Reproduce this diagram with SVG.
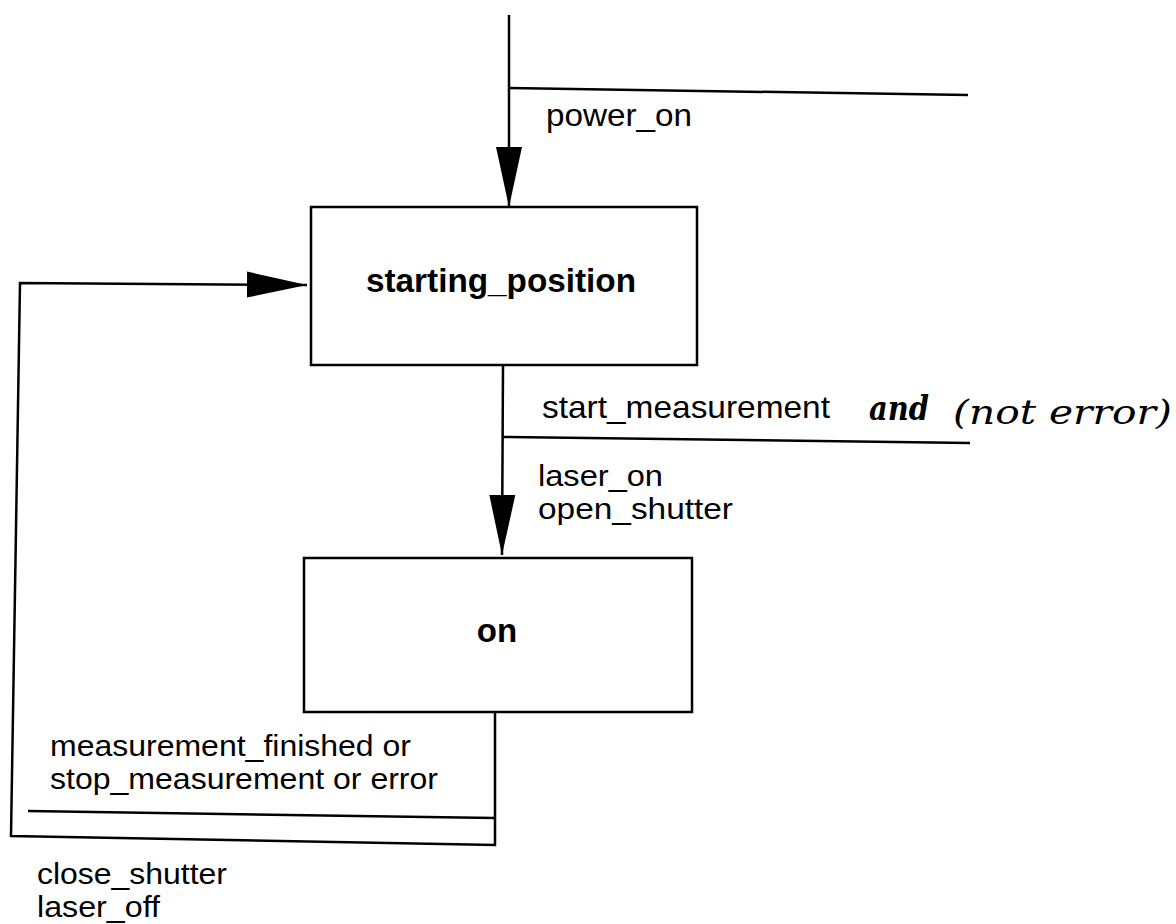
<svg xmlns="http://www.w3.org/2000/svg" width="1176" height="924" viewBox="0 0 1176 924">
<defs>
<marker id="ah" viewBox="0 0 60 30" refX="60" refY="15" markerWidth="60" markerHeight="30" markerUnits="userSpaceOnUse" orient="auto">
<path d="M0,2 L60,15 L0,28 Z" fill="#000"/>
</marker>
</defs>
<style>
.ln{fill:none;stroke:#000;stroke-width:2.5}
.box{fill:#fff;stroke:#000;stroke-width:2.5}
.t{font-family:"Liberation Sans",Arial,sans-serif;font-size:32px;fill:#000}
.s{font-family:"Liberation Sans",Arial,sans-serif;font-size:29px;fill:#000}
.b{font-family:"Liberation Sans",Arial,sans-serif;font-size:33px;font-weight:bold;fill:#000}
.h{font-family:"DejaVu Serif","Liberation Serif",serif;font-style:italic;font-size:34px;fill:#000}
</style>
<rect width="1176" height="924" fill="#fff"/>
<g id="connectors">
<line class="ln" x1="509" y1="15" x2="509" y2="207" marker-end="url(#ah)"/>
<line class="ln" x1="509" y1="88" x2="968" y2="95"/>
<line class="ln" x1="503" y1="365" x2="502" y2="555" marker-end="url(#ah)"/>
<line class="ln" x1="503" y1="437" x2="970" y2="443"/>
<polyline class="ln" points="495,712 495,845 11,836 20,283 307,285" marker-end="url(#ah)"/>
<line class="ln" x1="28" y1="811" x2="495" y2="818"/>
</g>
<g id="starting_position">
<rect class="box" x="311" y="207" width="386" height="158"/>
<text class="b" x="501" y="292" text-anchor="middle" textLength="270" lengthAdjust="spacingAndGlyphs">starting_position</text>
</g>
<g id="on">
<rect class="box" x="304" y="558" width="388" height="154"/>
<text class="b" x="497" y="642" text-anchor="middle">on</text>
</g>
<g id="labels">
<text class="t" x="546" y="126" textLength="146" lengthAdjust="spacingAndGlyphs">power_on</text>
<text class="t" x="542" y="418" textLength="288" lengthAdjust="spacingAndGlyphs">start_measurement</text>
<text class="h" x="869" y="420" font-weight="bold" textLength="60" lengthAdjust="spacingAndGlyphs">and</text>
<text class="h" x="953" y="424" textLength="219" lengthAdjust="spacingAndGlyphs">(not error)</text>
<text class="s" x="538" y="486" textLength="125" lengthAdjust="spacingAndGlyphs">laser_on</text>
<text class="s" x="538" y="519" textLength="195" lengthAdjust="spacingAndGlyphs">open_shutter</text>
<text class="s" x="50" y="756" textLength="361" lengthAdjust="spacingAndGlyphs">measurement_finished or</text>
<text class="s" x="50" y="789" textLength="388" lengthAdjust="spacingAndGlyphs">stop_measurement or error</text>
<text class="s" x="37" y="884" textLength="190" lengthAdjust="spacingAndGlyphs">close_shutter</text>
<text class="s" x="37" y="917" textLength="123" lengthAdjust="spacingAndGlyphs">laser_off</text>
</g>
</svg>
